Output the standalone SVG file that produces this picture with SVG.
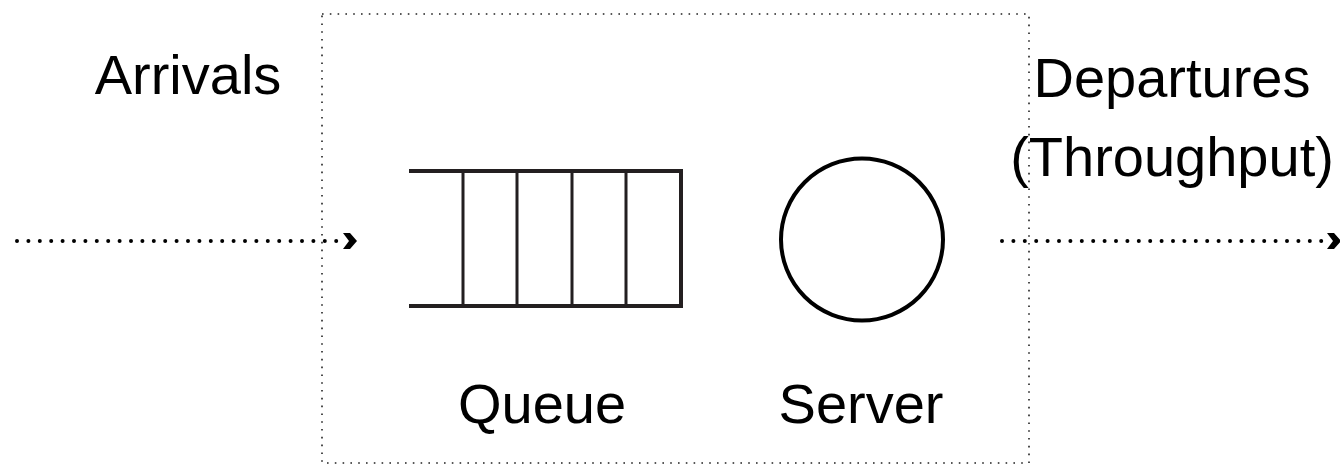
<svg xmlns="http://www.w3.org/2000/svg" width="1340" height="464" viewBox="0 0 1340 464">
  <style>
    .lbl { font-family: "Liberation Sans", Arial, Helvetica, sans-serif; font-size: 56px; fill: #000; text-anchor: middle; }
    .frame { fill: none; stroke: #222; stroke-width: 1.6; stroke-dasharray: 1.6 6.2; }
    .flow { fill: none; stroke: #000; stroke-width: 4; stroke-linecap: round; stroke-dasharray: 0 11.4; }
    .q { fill: none; stroke: #231f20; stroke-width: 4; }
    .qd { fill: none; stroke: #231f20; stroke-width: 3; }
    .srv { fill: none; stroke: #000; stroke-width: 4; }
    .head { fill: #000; }
  </style>
  <defs>
    <path id="chev" d="M-14,-8 L-7,-8 L0,0 L-7,8 L-14,8 L-8,0 Z"/>
  </defs>

  <g id="system">
    <rect class="frame" x="322" y="14" width="707" height="449"/>
  </g>

  <g id="queue">
    <path class="q" d="M409,171 H681 V306 H409"/>
    <path class="qd" d="M463,171 V306 M517,171 V306 M572,171 V306 M626,171 V306"/>
    <text class="lbl" x="542" y="423">Queue</text>
  </g>

  <g id="server">
    <circle class="srv" cx="862" cy="239.5" r="81"/>
    <text class="lbl" x="861" y="423">Server</text>
  </g>

  <g id="arrivals">
    <text class="lbl" x="188" y="94">Arrivals</text>
  </g>

  <g id="departures">
    <text class="lbl" x="1172" y="97">Departures</text>
    <text class="lbl" x="1172" y="176">(Throughput)</text>
  </g>

  <g id="connectors">
    <line class="flow" x1="17" y1="241" x2="340" y2="241"/>
    <use href="#chev" class="head" transform="translate(357,241)"/>
    <line class="flow" x1="1002" y1="241" x2="1326" y2="241"/>
    <use href="#chev" class="head" transform="translate(1341,241)"/>
  </g>
</svg>
